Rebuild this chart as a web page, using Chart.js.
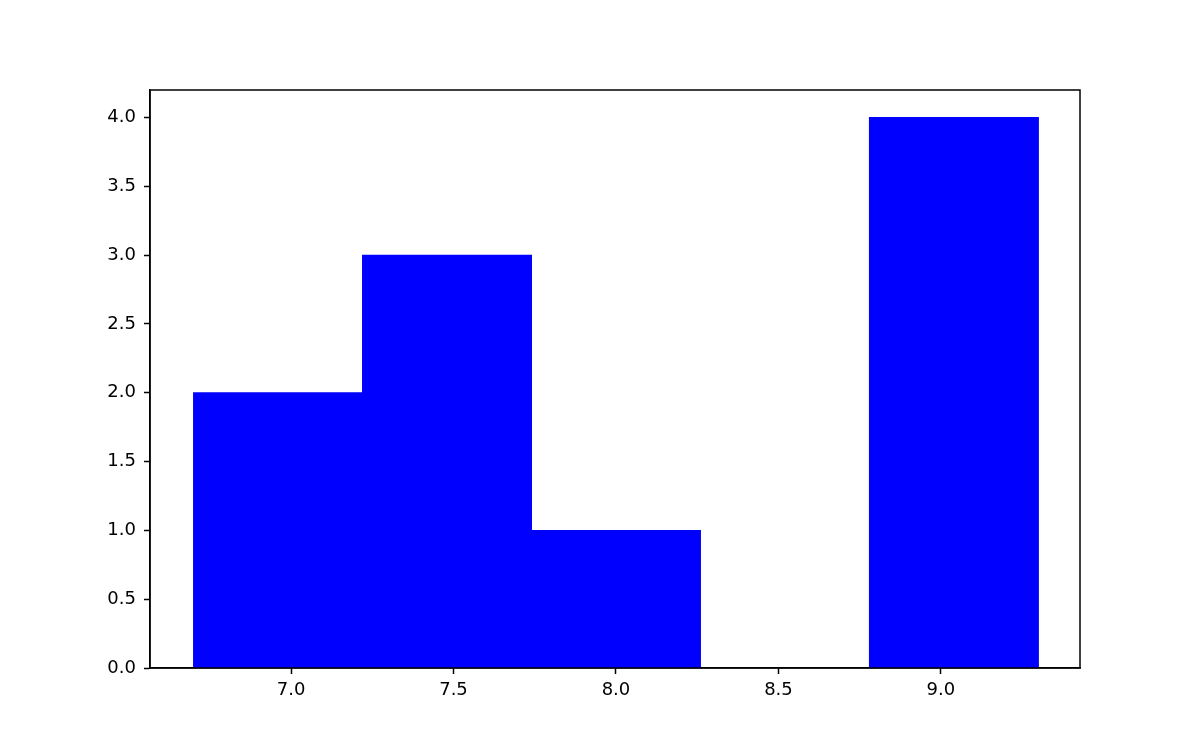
<!DOCTYPE html>
<html>
<head>
<meta charset="utf-8">
<script src="https://cdn.jsdelivr.net/npm/chart.js@4/dist/chart.umd.min.js"></script>
<style>
html,body{margin:0;padding:0;background:#fff;}
#wrap{width:1200px;height:750px;}
</style>
</head>
<body>
<div id="wrap"><canvas id="c" width="1200" height="750"></canvas></div>
<script>
const binEdges = [6.7, 7.22, 7.74, 8.26, 8.78, 9.3];
const counts = [2, 3, 1, 0, 4];
const xTicks = [7.0, 7.5, 8.0, 8.5, 9.0];
const yTicks = [0, 0.5, 1.0, 1.5, 2.0, 2.5, 3.0, 3.5, 4.0];

const points = counts.map((c, i) => ({x: (binEdges[i] + binEdges[i+1]) / 2, y: c}));

const frame = {
  id: 'frame',
  afterDraw(chart) {
    const a = chart.chartArea, ctx = chart.ctx;
    ctx.save();
    ctx.strokeStyle = '#000';
    ctx.lineWidth = 1.5;
    ctx.strokeRect(a.left, a.top, a.right - a.left, a.bottom - a.top);
    ctx.restore();
  }
};

new Chart(document.getElementById('c'), {
  type: 'bar',
  data: {
    datasets: [{
      data: points,
      backgroundColor: '#0000ff',
      borderWidth: 0,
      inflateAmount: ctx => (ctx.raw && ctx.raw.y) ? 0.5 : 0,
      barThickness: 'flex',
      barPercentage: 1.0,
      categoryPercentage: 1.0
    }]
  },
  options: {
    responsive: false,
    animation: false,
    layout: {padding: {left: 0, right: 120, top: 90, bottom: 0}},
    plugins: {legend: {display: false}, tooltip: {enabled: false}},
    scales: {
      x: {
        type: 'linear',
        min: 6.566,
        max: 9.428,
        offset: false,
        afterBuildTicks: s => { s.ticks = xTicks.map(v => ({value: v})); },
        afterFit: s => { s.height = 82; },
        ticks: {
          color: '#000',
          font: {family: "'DejaVu Sans', sans-serif", size: 18},
          padding: 6,
          maxRotation: 0,
          callback: v => Number(v).toFixed(1)
        },
        grid: {offset: false, drawOnChartArea: false, drawTicks: true, tickLength: 6, tickWidth: 1.5, color: '#000'},
        border: {display: true, color: '#000', width: 1.5}
      },
      y: {
        type: 'linear',
        min: 0,
        max: 4.2,
        afterBuildTicks: s => { s.ticks = yTicks.map(v => ({value: v})); },
        afterFit: s => { s.width = 150; },
        ticks: {
          color: '#000',
          font: {family: "'DejaVu Sans', sans-serif", size: 18},
          padding: 8,
          callback: v => Number(v).toFixed(1)
        },
        grid: {drawOnChartArea: false, drawTicks: true, tickLength: 6, tickWidth: 1.5, color: '#000'},
        border: {display: true, color: '#000', width: 1.5}
      }
    }
  },
  plugins: [frame]
});
</script>
</body>
</html>
